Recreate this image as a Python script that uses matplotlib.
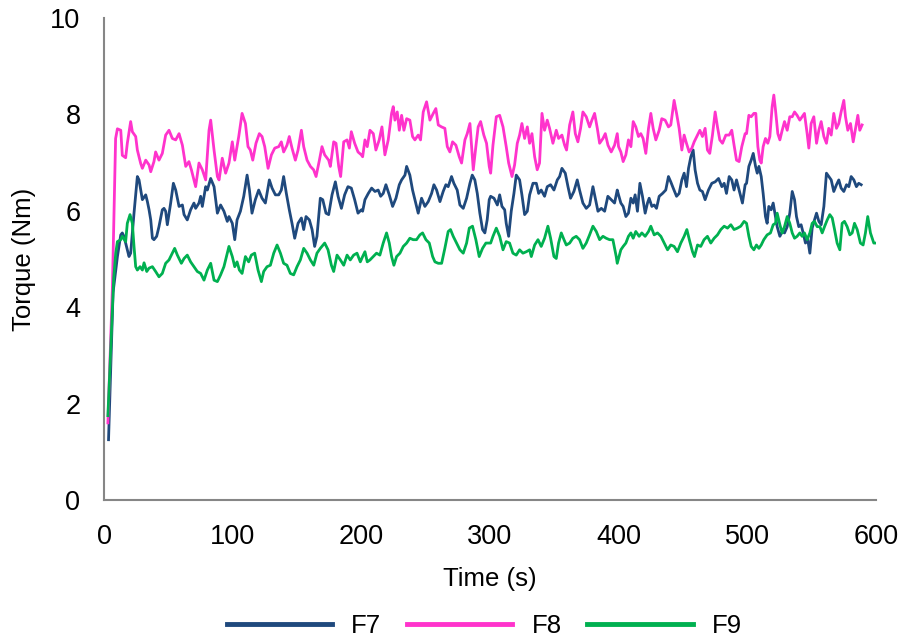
import numpy as np
import matplotlib
matplotlib.use("Agg")
import matplotlib.pyplot as plt

plt.rcParams['font.family'] = ['Liberation Sans', 'DejaVu Sans']

# torque traces (time in s, torque in Nm)
f7_t = [3.5, 7.0, 10.4, 13.0, 14.2, 15.5, 18.1, 19.4, 20.7, 23.3, 25.9, 27.2, 29.8, 32.4, 33.7, 35.0, 36.3, 37.6, 38.8, 40.9,
        42.7, 45.3, 46.6, 47.9, 49.2, 51.8, 53.9, 55.7, 58.3, 60.9, 62.2, 64.7, 67.3, 69.9, 71.2, 73.8, 75.1, 76.4, 79.0, 80.3,
        82.9, 85.5, 88.1, 90.6, 93.2, 95.8, 97.1, 99.7,
        101.6, 103.4, 106.0, 108.6, 111.2, 113.0, 115.0, 117.6, 120.2, 122.8, 125.4, 128.5, 130.6, 133.2, 135.8, 137.8, 139.6,
        141.7, 144.0, 146.1, 148.2, 150.8, 153.4, 155.2, 157.0, 159.6, 161.7, 163.7, 165.5, 168.1, 170.0, 172.5, 174.6, 177.2,
        179.8, 181.9, 184.5, 187.0, 189.6, 192.2, 194.8, 197.4, 200.0,
        201.0, 202.8, 205.4, 208.0, 210.6, 213.1, 215.0, 217.0, 219.1, 221.7, 224.3, 226.9, 229.5, 231.3, 233.9, 235.2, 237.7,
        239.8, 241.6, 244.2, 246.8, 249.4, 252.0, 254.6, 256.4, 258.5, 261.1, 263.6, 265.7, 267.5, 270.1, 271.9, 274.5, 276.6,
        279.2, 281.8, 284.4, 286.2, 288.2, 290.1, 292.1, 294.2, 296.0, 297.8, 299.4,
        300.5, 303.1, 305.7, 307.5, 309.3, 311.4, 312.6, 314.5, 316.5, 318.6, 320.4, 323.0, 324.8, 326.9, 329.0, 330.8, 333.4,
        336.0, 337.8, 339.8, 342.4, 344.5, 347.1, 349.7, 352.3, 354.1, 355.9, 358.5, 360.6, 362.6, 365.2, 367.8, 369.6, 372.2,
        374.8, 377.4, 380.0, 381.8, 383.9, 386.5, 389.1, 391.6, 394.2, 396.8, 398.9,
        399.9, 401.7, 403.5, 405.6, 407.6, 409.5, 411.3, 412.8, 414.6, 416.5, 418.5, 420.6, 422.4, 423.7, 425.8, 427.6, 429.4,
        431.5, 434.1, 436.6, 438.7, 440.5, 442.4, 445.0, 447.0, 449.1, 450.9, 452.7, 454.3, 456.1, 457.9, 459.4, 461.3, 463.1,
        465.1, 467.2, 469.8, 472.4, 475.0, 477.6, 480.2, 482.0, 483.8, 485.9, 487.9, 489.7, 491.6, 493.6, 496.2, 498.3,
        499.4, 501.2, 503.0, 504.6, 506.4, 507.7, 509.0, 510.8, 512.3, 514.1, 515.4, 516.7, 518.5, 520.1, 521.9, 523.2, 525.3,
        527.1, 528.9, 531.0, 533.0, 534.9, 536.7, 538.2, 540.0, 541.8, 543.4, 545.2, 547.0, 548.6, 550.4, 552.2, 553.8, 555.6,
        557.4, 559.5, 561.5, 563.3, 565.2, 567.2, 569.3, 571.1, 572.9, 575.0, 577.1, 578.9, 580.7, 582.8, 584.8, 586.6, 588.5]
f7_v = [1.25, 4.30, 5.05, 5.50, 5.54, 5.47, 5.19, 5.05, 5.12, 5.95, 6.71, 6.64, 6.23, 6.33, 6.19, 6.02, 5.81, 5.43, 5.40, 5.47,
        5.67, 6.02, 6.05, 5.99, 5.71, 6.16, 6.57, 6.43, 6.09, 6.12, 5.92, 5.81, 6.02, 6.16, 6.05, 6.16, 6.30, 6.09, 6.50, 6.43,
        6.67, 6.50, 5.95, 6.12, 5.99, 5.78, 5.88, 5.74,
        5.40, 5.81, 5.99, 6.30, 6.74, 6.43, 5.95, 6.23, 6.43, 6.26, 6.16, 6.64, 6.47, 6.33, 6.33, 6.43, 6.71,
        6.36, 6.02, 5.74, 5.43, 5.74, 5.85, 5.61, 5.88, 5.81, 5.61, 5.26, 5.47, 6.26, 6.23, 5.95, 5.92, 6.33,
        6.60, 6.30, 6.05, 6.33, 6.50, 6.47, 6.23, 5.95, 6.02,
        5.99, 6.23, 6.36, 6.47, 6.40, 6.43, 6.30, 6.36, 6.54, 6.33, 6.09, 6.26, 6.54, 6.64, 6.74, 6.92, 6.74,
        6.43, 6.23, 5.95, 6.26, 6.09, 6.19, 6.36, 6.54, 6.43, 6.19, 6.40, 6.54, 6.50, 6.71, 6.57, 6.43, 6.12,
        6.05, 6.26, 6.57, 6.74, 6.64, 6.36, 5.95, 5.61, 5.54, 5.81, 6.23,
        6.30, 6.26, 6.12, 6.33, 6.09, 6.02, 5.74, 5.47, 5.99, 6.36, 6.74, 6.64, 6.33, 5.92, 5.99, 6.33, 6.57,
        6.57, 6.36, 6.43, 6.30, 6.50, 6.54, 6.43, 6.64, 6.71, 6.88, 6.78, 6.50, 6.26, 6.40, 6.64, 6.43, 6.16,
        6.05, 6.12, 6.50, 6.26, 5.99, 6.05, 5.99, 6.30, 6.23, 6.16, 6.43,
        6.33, 6.16, 6.09, 5.88, 5.95, 6.26, 6.16, 6.33, 5.99, 6.57, 6.30, 5.95, 6.16, 6.26, 6.09, 6.12, 6.05,
        6.30, 6.36, 6.43, 6.71, 6.60, 6.47, 6.30, 6.36, 6.64, 6.78, 6.50, 6.88, 7.12, 7.26, 6.85, 6.57, 6.43,
        6.40, 6.23, 6.43, 6.57, 6.60, 6.67, 6.50, 6.57, 6.36, 6.71, 6.64, 6.43, 6.64, 6.43, 6.16, 6.54,
        6.57, 6.92, 7.05, 7.19, 6.92, 6.78, 6.92, 6.71, 6.36, 5.88, 5.74, 6.09, 6.02, 6.16, 5.88, 5.67, 5.47,
        5.57, 5.54, 5.67, 5.95, 6.40, 6.23, 5.88, 5.67, 5.71, 5.54, 5.33, 5.40, 5.12, 5.64, 5.81, 5.95, 5.78,
        5.71, 6.09, 6.78, 6.71, 6.64, 6.40, 6.54, 6.64, 6.47, 6.40, 6.54, 6.50, 6.71, 6.64, 6.50, 6.57, 6.54]

f8_t = [3.0, 6.5, 9.0, 10.4, 13.0, 14.2, 16.8, 18.1, 20.7, 22.0, 24.6, 25.9, 28.5, 29.8, 32.4, 35.0, 36.3, 38.8, 40.1, 42.7,
        45.3, 47.9, 50.5, 53.1, 55.7, 58.3, 60.9, 63.5, 66.0, 67.9, 71.2, 73.8, 76.4, 79.0, 81.6, 82.9, 85.5, 88.1, 89.4, 91.9,
        94.5, 97.1, 99.7,
        101.6, 104.7, 107.3, 109.9, 111.9, 113.7, 115.6, 118.1, 120.7, 122.8, 124.9, 127.5, 130.1, 132.7, 135.8, 137.8, 139.6,
        142.2, 144.0, 146.1, 148.7, 150.8, 153.4, 155.2, 157.8, 160.4, 162.9, 164.8, 167.4, 169.4, 171.5, 174.6, 175.9, 178.5,
        180.3, 182.4, 183.9, 186.3, 188.9, 190.7, 192.2, 194.8, 197.4, 200.0,
        201.0, 202.8, 204.6, 206.7, 209.3, 211.3, 213.9, 216.0, 218.3, 220.9, 223.5, 224.8, 226.1, 227.9, 229.5, 231.3, 233.1,
        235.2, 237.7, 239.8, 241.6, 244.2, 246.0, 248.1, 250.7, 253.3, 255.9, 257.9, 259.8, 262.3, 264.9, 266.8, 268.8, 270.9,
        273.5, 276.1, 277.9, 280.5, 282.3, 284.4, 287.0, 289.0, 290.8, 292.7, 295.2, 297.3, 299.4,
        300.5, 302.3, 304.9, 307.5, 310.1, 312.6, 314.5, 317.1, 319.1, 321.2, 323.0, 324.8, 326.9, 329.0, 330.8, 332.6, 334.7,
        336.7, 338.5, 340.4, 342.4, 344.5, 346.3, 348.9, 351.5, 353.3, 355.9, 358.0, 359.5, 361.9, 364.4, 366.3, 368.3, 370.4,
        372.2, 374.8, 377.4, 379.2, 381.3, 383.4, 385.2, 387.8, 389.6, 391.7, 394.2, 396.8, 398.9,
        399.9, 401.7, 403.5, 405.6, 407.6, 409.5, 411.3, 413.3, 415.4, 417.2, 419.0, 421.1, 423.2, 425.0, 426.8, 428.9, 431.5,
        433.5, 436.1, 438.7, 440.5, 443.1, 445.0, 447.0, 449.1, 450.9, 452.7, 454.8, 456.9, 458.7, 461.3, 463.1, 465.1, 467.2,
        469.0, 470.8, 472.9, 475.0, 476.8, 478.6, 480.7, 483.3, 485.9, 487.9, 489.7, 491.6, 493.6, 495.7, 498.3,
        499.4, 501.2, 503.0, 505.1, 506.6, 508.2, 509.7, 510.8, 512.3, 514.1, 515.9, 517.5, 519.3, 520.6, 521.9, 523.7, 525.3,
        527.1, 528.9, 531.0, 533.0, 534.9, 536.7, 538.7, 540.8, 542.6, 544.4, 546.5, 547.8, 549.6, 551.7, 553.8, 555.6, 557.4,
        559.5, 561.5, 563.3, 565.2, 567.2, 569.3, 571.1, 572.9, 575.0, 576.3, 578.1, 580.2, 582.3, 584.1, 585.9, 587.4, 588.5,
        589.2]
f8_v = [1.60, 4.40, 7.50, 7.70, 7.67, 7.15, 7.10, 7.40, 7.85, 7.64, 7.54, 7.26, 6.98, 6.88, 7.05, 6.95, 6.81, 7.02, 7.22, 7.05,
        7.19, 7.57, 7.67, 7.50, 7.47, 7.60, 7.36, 6.92, 7.02, 6.85, 6.50, 6.99, 6.85, 6.64, 7.67, 7.88, 7.26, 6.71, 6.64, 7.09,
        6.78, 6.99, 7.43,
        7.05, 7.54, 8.02, 7.81, 7.33, 7.26, 7.05, 7.40, 7.60, 7.54, 7.33, 6.88, 7.16, 7.30, 7.33, 7.43, 7.22,
        7.36, 7.54, 7.30, 7.05, 7.26, 7.67, 7.33, 7.05, 6.92, 6.85, 6.71, 7.05, 7.33, 7.16, 7.05, 6.92, 7.43,
        7.40, 6.92, 6.71, 7.43, 7.47, 7.30, 7.64, 7.40, 7.22, 7.16,
        7.12, 7.47, 7.33, 7.67, 7.60, 7.26, 7.47, 7.74, 7.16, 7.47, 8.02, 8.16, 7.88, 8.05, 7.67, 7.98, 7.67,
        7.91, 7.88, 7.54, 7.47, 7.57, 7.47, 8.05, 8.26, 7.88, 8.02, 8.12, 7.78, 7.74, 7.71, 7.33, 7.22, 7.43,
        7.36, 7.12, 6.99, 7.47, 7.60, 7.81, 6.85, 7.33, 7.74, 7.85, 7.57, 7.40, 6.92,
        6.78, 7.36, 7.95, 7.98, 7.74, 7.33, 6.99, 6.71, 6.95, 7.40, 7.57, 7.81, 7.50, 7.74, 7.40, 7.60, 7.12,
        6.85, 6.99, 8.02, 7.67, 7.88, 7.71, 7.40, 7.67, 7.50, 7.57, 7.36, 7.26, 7.78, 8.05, 7.60, 7.43, 7.71,
        8.05, 7.95, 7.74, 7.88, 8.02, 7.71, 7.40, 7.50, 7.60, 7.36, 7.22, 7.36, 7.60,
        7.33, 7.22, 7.02, 7.16, 7.47, 7.33, 7.85, 7.74, 7.54, 7.60, 7.50, 7.19, 7.71, 8.02, 7.71, 7.47, 7.67,
        7.91, 7.88, 7.74, 7.78, 8.29, 8.02, 7.71, 7.26, 7.57, 7.40, 7.22, 7.30, 7.43, 7.57, 7.67, 7.54, 7.71,
        7.26, 7.19, 7.57, 8.05, 7.74, 7.47, 7.40, 7.57, 7.57, 7.67, 7.36, 7.05, 7.02, 7.33, 7.60,
        7.60, 7.98, 7.95, 8.02, 8.02, 7.33, 7.05, 6.99, 7.33, 7.50, 7.40, 7.54, 8.16, 8.40, 8.09, 7.60, 7.47,
        7.67, 7.85, 7.67, 7.95, 7.95, 8.05, 7.98, 7.88, 7.95, 8.02, 7.60, 7.30, 7.81, 7.95, 7.40, 7.67, 7.85,
        7.54, 7.40, 7.71, 7.57, 8.02, 7.71, 7.81, 8.05, 8.29, 7.95, 7.67, 7.81, 7.43, 7.71, 7.98, 7.67, 7.74,
        7.78]

f9_t = [3.0, 7.5, 9.1, 10.4, 13.0, 14.2, 16.8, 18.1, 20.2, 22.0, 23.3, 24.6, 25.9, 28.0, 29.8, 31.1, 33.2, 35.0, 37.6, 40.1,
        42.7, 45.3, 47.9, 50.5, 53.1, 54.9, 57.0, 60.1, 62.2, 64.7, 67.3, 69.9, 72.5, 75.1, 77.7, 80.3, 82.9, 85.5, 88.1, 90.6,
        93.2, 97.1, 99.7,
        101.6, 103.4, 105.2, 107.3, 109.9, 112.4, 114.5, 117.1, 119.7, 122.3, 124.1, 126.7, 129.3, 131.9, 134.5, 137.1, 139.6,
        142.2, 144.8, 147.4, 150.0, 152.6, 155.2, 157.8, 160.4, 163.0, 165.5, 168.1, 171.5, 174.1, 176.7, 178.5, 181.1, 183.7,
        186.3, 188.9, 191.4, 194.0, 196.6, 199.2,
        201.0, 202.8, 204.6, 206.7, 209.3, 211.8, 214.4, 217.0, 219.6, 221.7, 223.5, 225.3, 227.4, 230.0, 232.6, 235.2, 237.7,
        240.3, 242.9, 245.5, 247.6, 250.2, 252.8, 255.4, 257.2, 259.8, 262.4, 264.9, 267.5, 269.3, 271.4, 274.0, 276.6, 279.2,
        281.8, 283.9, 286.4, 289.0, 291.6, 294.2, 296.8, 299.4,
        300.5, 302.3, 304.9, 307.5, 310.1, 312.6, 315.2, 317.8, 320.4, 323.0, 325.6, 328.2, 330.8, 332.1, 334.7, 337.3, 339.8,
        342.4, 345.0, 347.1, 349.7, 351.5, 353.3, 355.4, 357.5, 359.3, 361.9, 364.4, 367.0, 369.6, 372.2, 374.8, 377.4, 380.0,
        382.6, 385.2, 387.8, 390.3, 392.9, 395.5, 398.1, 398.9,
        399.9, 401.7, 403.5, 405.6, 407.6, 409.5, 411.3, 413.3, 415.9, 418.0, 420.6, 423.2, 425.0, 427.6, 430.2, 432.8, 435.4,
        438.0, 440.5, 443.1, 445.7, 448.3, 450.9, 453.0, 455.3, 457.4, 458.9, 461.3, 463.8, 466.4, 469.0, 471.6, 474.2, 476.8,
        479.4, 482.0, 484.6, 487.2, 489.7, 492.3, 494.9, 497.5,
        499.4, 501.2, 503.0, 505.1, 507.1, 509.0, 510.8, 512.8, 515.4, 518.0, 520.1, 521.9, 523.2, 525.3, 527.1, 528.9, 531.0,
        533.0, 534.9, 536.7, 538.7, 540.8, 542.6, 544.4, 546.5, 548.6, 550.4, 552.2, 554.3, 556.4, 558.2, 560.0, 562.1, 564.1,
        566.0, 567.8, 569.8, 571.9, 573.7, 575.5, 577.6, 579.7, 581.5, 583.3, 585.4, 587.9, 590.0, 591.8, 593.6, 595.7, 598.3,
        599.9]
f9_v = [1.75, 4.60, 5.12, 5.36, 5.40, 5.47, 5.36, 5.74, 5.92, 5.74, 5.26, 4.84, 4.77, 4.84, 4.77, 4.92, 4.74, 4.81, 4.84, 4.74,
        4.63, 4.70, 4.91, 4.98, 5.12, 5.22, 5.08, 4.91, 5.01, 5.08, 4.94, 4.84, 4.74, 4.70, 4.56, 4.77, 4.91, 4.56, 4.53, 4.67,
        4.84, 5.26, 5.05,
        4.84, 4.94, 4.77, 4.70, 5.05, 4.94, 5.08, 5.12, 4.77, 4.53, 4.74, 4.84, 4.87, 5.12, 5.29, 5.12, 4.91,
        4.87, 4.70, 4.67, 4.84, 4.98, 5.22, 5.12, 4.98, 4.87, 5.12, 5.22, 5.33, 5.19, 4.87, 4.74, 5.08, 4.98,
        4.87, 5.08, 4.98, 5.08, 5.12, 4.94,
        5.05, 5.15, 4.94, 4.98, 5.05, 5.12, 5.08, 5.33, 5.54, 5.33, 5.05, 4.87, 5.05, 5.12, 5.26, 5.33, 5.43,
        5.40, 5.40, 5.50, 5.54, 5.40, 5.33, 5.05, 4.94, 4.91, 4.91, 5.22, 5.57, 5.61, 5.47, 5.33, 5.19, 5.12,
        5.33, 5.64, 5.68, 5.40, 5.05, 5.22, 5.33, 5.33,
        5.33, 5.47, 5.64, 5.47, 5.19, 5.36, 5.33, 5.12, 5.08, 5.19, 5.12, 5.15, 5.19, 5.05, 5.29, 5.40, 5.26,
        5.43, 5.68, 5.43, 5.05, 5.01, 5.33, 5.54, 5.40, 5.29, 5.33, 5.43, 5.47, 5.40, 5.22, 5.33, 5.50, 5.68,
        5.57, 5.40, 5.47, 5.43, 5.40, 5.40, 5.05, 4.91,
        5.01, 5.19, 5.26, 5.33, 5.47, 5.54, 5.43, 5.57, 5.47, 5.54, 5.47, 5.57, 5.68, 5.50, 5.54, 5.47, 5.33,
        5.19, 5.29, 5.26, 5.15, 5.33, 5.47, 5.61, 5.36, 5.15, 5.05, 5.29, 5.26, 5.40, 5.47, 5.33, 5.43, 5.50,
        5.61, 5.68, 5.64, 5.71, 5.61, 5.64, 5.68, 5.78,
        5.74, 5.47, 5.26, 5.19, 5.29, 5.22, 5.29, 5.40, 5.50, 5.54, 5.71, 5.74, 5.95, 5.71, 5.54, 5.67, 5.88,
        5.74, 5.54, 5.43, 5.47, 5.54, 5.47, 5.54, 5.40, 5.54, 5.74, 5.78, 5.67, 5.67, 5.54, 5.67, 5.81, 5.92,
        5.85, 5.61, 5.33, 5.19, 5.74, 5.78, 5.67, 5.50, 5.54, 5.74, 5.61, 5.33, 5.29, 5.54, 5.88, 5.54, 5.33,
        5.33]

labels = ["F7", "F8", "F9"]
colors = ["#1F497D", "#FF33CC", "#00B050"]

fig = plt.figure(figsize=(9.07, 6.41), dpi=100, facecolor='w')
ax = fig.add_axes([0.1147, 0.22, 0.8511, 0.752])

for t, v, lab, c in zip([f7_t, f8_t, f9_t], [f7_v, f8_v, f9_v], labels, colors):
    ax.plot(t, v, color=c, lw=2.0, label=lab, solid_joinstyle='round')

ax.set_xlim(0, 600)
ax.set_ylim(0, 10)
ax.set_xticks(np.arange(0, 601, 100))
ax.set_yticks(np.arange(0, 11, 2))

for s in ['top', 'right']:
    ax.spines[s].set_visible(False)
for s in ['left', 'bottom']:
    ax.spines[s].set_color('#868686')
    ax.spines[s].set_linewidth(1.5)

ax.tick_params(length=0, labelsize=19.5, pad=17, colors='black')

ax.set_xlabel("Time (s)", fontsize=18.5)
ax.set_ylabel("Torque (Nm)", fontsize=18.5)
ax.xaxis.set_label_coords(0.5, -0.139)
ax.yaxis.set_label_coords(-0.088, 0.5)

leg = fig.legend(loc='center', bbox_to_anchor=(0.534, 0.024), ncol=3, frameon=False,
                 fontsize=18.5, handlelength=4.1, columnspacing=1.0, handletextpad=0.75)
for line in leg.get_lines():
    line.set_linewidth(3.5)

plt.savefig("out.png", dpi=100)
